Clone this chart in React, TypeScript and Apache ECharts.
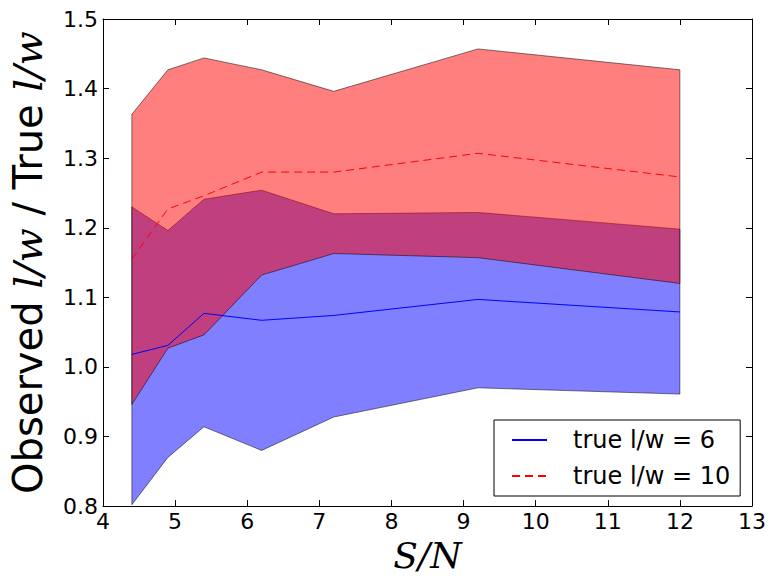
import React, { useEffect, useRef } from 'react';
import * as echarts from 'echarts';

const SN = [4.4, 4.9, 5.4, 6.2, 7.2, 9.2, 12.0];
const ratio6 = [1.018, 1.031, 1.077, 1.067, 1.074, 1.097, 1.079];
const ratio10 = [1.155, 1.227, 1.246, 1.280, 1.280, 1.307, 1.273];
const low6 = [0.802, 0.870, 0.914, 0.880, 0.928, 0.970, 0.961];
const high6 = [1.230, 1.196, 1.241, 1.254, 1.220, 1.222, 1.198];
const low10 = [0.946, 1.027, 1.046, 1.132, 1.163, 1.157, 1.120];
const high10 = [1.363, 1.427, 1.444, 1.427, 1.396, 1.457, 1.427];
const seriesNames = ['true l/w = 6', 'true l/w = 10'];

const SANS = 'DejaVu Sans';
const MATH = 'DejaVu Serif';

function band(name: string, lo: number[], hi: number[], fill: string) {
  return {
    type: 'custom',
    name,
    silent: true,
    z: 1,
    data: SN.map((x, i) => [x, lo[i], hi[i]]),
    encode: { x: 0, y: [1, 2] },
    renderItem: (params: any, api: any) => {
      if (params.dataIndex !== 0) return null;
      const pts: number[][] = [];
      for (let i = 0; i < SN.length; i++) pts.push(api.coord([SN[i], hi[i]]));
      for (let i = SN.length - 1; i >= 0; i--) pts.push(api.coord([SN[i], lo[i]]));
      return {
        type: 'polygon',
        shape: { points: pts },
        style: { fill, stroke: 'rgba(0,0,0,0.5)', lineWidth: 1 },
      };
    },
  };
}

export default function App() {
  const ref = useRef<HTMLDivElement>(null);
  useEffect(() => {
    if (!ref.current) return;
    const chart = echarts.init(ref.current, null, { renderer: 'svg' });
    const axisLine = { show: true, lineStyle: { color: '#000', width: 1 } };
    const tickIn = { show: true, inside: true, length: 6, lineStyle: { color: '#000', width: 1 } };
    chart.setOption({
      animation: false,
      backgroundColor: '#fff',
      grid: { left: 97, right: 20, top: 19, bottom: 69, containLabel: false },
      legend: {
        data: seriesNames,
        orient: 'vertical',
        left: 494,
        top: 420,
        padding: [8, 10, 8, 17],
        itemGap: 12,
        itemWidth: 35,
        itemHeight: 14,
        borderColor: '#000',
        borderWidth: 1,
        borderRadius: 0,
        backgroundColor: '#fff',
        z: 10,
        itemStyle: { opacity: 0 },
        textStyle: { fontFamily: SANS, fontSize: 24, color: '#000', padding: [0, 0, 0, 21] },
      },
      xAxis: [
        {
          type: 'value', min: 4, max: 13, interval: 1, position: 'bottom',
          name: 'S/N', nameLocation: 'middle', nameGap: 30,
          nameTextStyle: { fontFamily: MATH, fontStyle: 'italic', fontSize: 36, color: '#000' },
          axisLine, axisTick: tickIn, splitLine: { show: false },
          axisLabel: { fontFamily: SANS, fontSize: 22, color: '#000', margin: 4 },
        },
        {
          type: 'value', min: 4, max: 13, interval: 1, position: 'top',
          axisLine, axisTick: tickIn, splitLine: { show: false }, axisLabel: { show: false },
        },
      ],
      yAxis: [
        {
          type: 'value', min: 0.8, max: 1.5, interval: 0.1, position: 'left',
          name: 'Observed {m|l/w} / True {m|l/w}', nameLocation: 'middle', nameRotate: 90, nameGap: 55,
          nameTextStyle: {
            fontFamily: SANS, fontSize: 40, color: '#000',
            rich: { m: { fontFamily: MATH, fontStyle: 'italic', fontSize: 40, color: '#000' } },
          },
          axisLine, axisTick: tickIn, splitLine: { show: false },
          axisLabel: { fontFamily: SANS, fontSize: 22, color: '#000', margin: 5, formatter: (v: number) => v.toFixed(1) },
        },
        {
          type: 'value', min: 0.8, max: 1.5, interval: 0.1, position: 'right',
          axisLine, axisTick: tickIn, splitLine: { show: false }, axisLabel: { show: false },
        },
      ],
      series: [
        band('band6', low6, high6, 'rgba(0,0,255,0.5)'),
        band('band10', low10, high10, 'rgba(255,0,0,0.5)'),
        {
          type: 'line', name: seriesNames[0], z: 3,
          data: SN.map((x, i) => [x, ratio6[i]]),
          symbol: 'none', showSymbol: false,
          lineStyle: { color: '#0000ff', width: 1 },
          itemStyle: { color: '#0000ff' },
        },
        {
          type: 'line', name: seriesNames[1], z: 3,
          data: SN.map((x, i) => [x, ratio10[i]]),
          symbol: 'none', showSymbol: false,
          lineStyle: { color: '#ff0000', width: 1, type: [8, 5] },
          itemStyle: { color: '#ff0000' },
        },
      ],
    });
    return () => chart.dispose();
  }, []);
  return <div ref={ref} style={{ position: 'fixed', left: 0, top: 0, width: 772, height: 578 }} />;
}
